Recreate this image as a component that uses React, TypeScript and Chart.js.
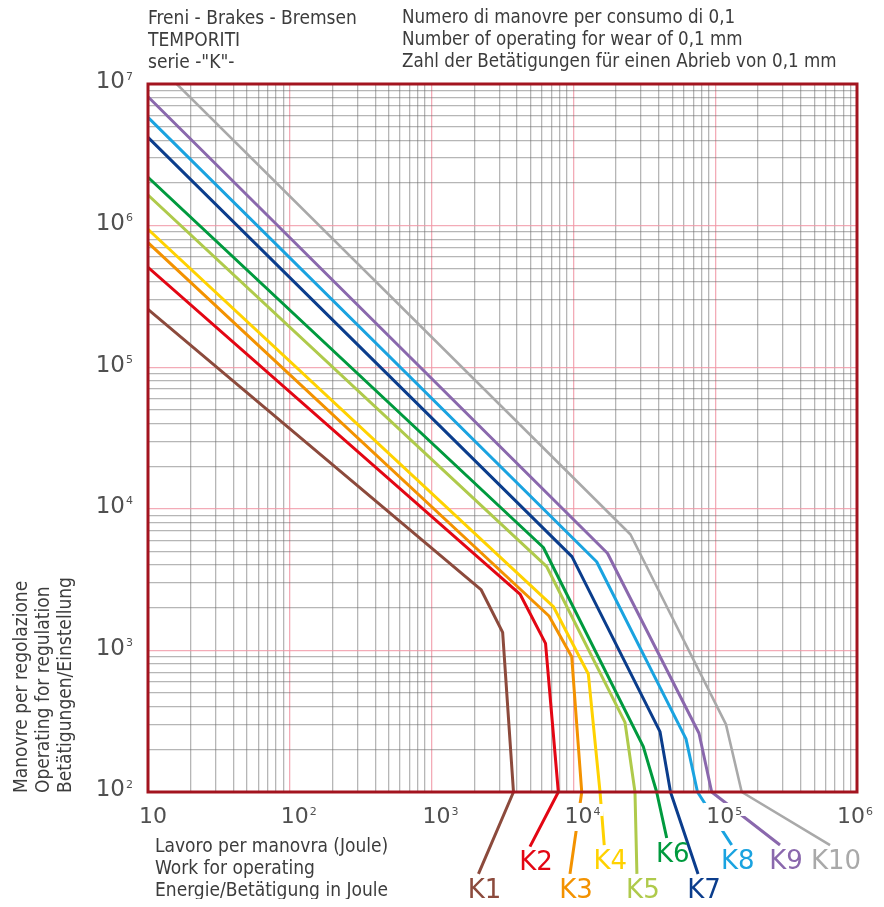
import React, { useEffect, useRef } from 'react';
import { Chart, registerables } from 'chart.js';

Chart.register(...registerables);

// Series names and colours
const seriesLabels = ['K1', 'K2', 'K3', 'K4', 'K5', 'K6', 'K7', 'K8', 'K9', 'K10'];
const seriesColors = ['#8c4a3c', '#e30613', '#f39200', '#ffd200', '#afca4b', '#009a3e', '#0b3d8c', '#1aa3e0', '#8a68ad', '#a9a9a9'];

// Work per operation (Joule) -> number of operations; last point = leader line to the label
const k1Work = [10, 2230, 3170, 3780, 2140];
const k1Ops = [256000, 2690, 1340, 100, 26.4];
const k2Work = [10, 4200, 6360, 7830, 4940];
const k2Ops = [507000, 2500, 1120, 100, 41.1];
const k3Work = [10, 6730, 9730, 11450, 9460];
const k3Ops = [757000, 1750, 902, 100, 26.4];
const k4Work = [10, 7220, 12740, 15410, 16500];
const k4Ops = [942000, 2040, 681, 100, 42.2];
const k5Work = [10, 6490, 23120, 27180, 28050];
const k5Ops = [1644000, 3900, 310, 100, 26.4];
const k6Work = [10, 6140, 31120, 38650, 45500];
const k6Ops = [2193000, 5330, 209, 100, 47.3];
const k7Work = [10, 9770, 40790, 48400, 75700];
const k7Ops = [4205000, 4590, 267, 100, 26.4];
const k8Work = [10, 14590, 62230, 75000, 130700];
const k8Ops = [5821000, 4230, 237, 100, 42.2];
const k9Work = [10, 17390, 76860, 94450, 286400];
const k9Ops = [8128000, 4850, 260, 100, 42.2];
const k10Work = [10, 25280, 119100, 153800, 645600];
const k10Ops = [15900000, 6580, 300, 100, 42.2];

const seriesWork = [k1Work, k2Work, k3Work, k4Work, k5Work, k6Work, k7Work, k8Work, k9Work, k10Work];
const seriesOps = [k1Ops, k2Ops, k3Ops, k4Ops, k5Ops, k6Ops, k7Ops, k8Ops, k9Ops, k10Ops];

// Axis ranges and labelled ticks (decades)
const xMin = 10;
const xMax = 1e6;
const yMin = 100;
const yMax = 1e7;
const xTickLabels = [10, 100, 1000, 10000, 100000, 1000000];
const yTickLabels = [100, 1000, 10000, 100000, 1000000, 10000000];

// Texts
const headerLeft = ['Freni - Brakes - Bremsen', 'TEMPORITI', 'serie -"K"-'];
const headerRight = [
  'Numero di manovre per consumo di 0,1',
  'Number of operating for wear of 0,1 mm',
  'Zahl der Betätigungen für einen Abrieb von 0,1 mm',
];
const yTitle = ['Manovre per regolazione', 'Operating for regulation', 'Betätigungen/Einstellung'];
const xTitle = ['Lavoro per manovra (Joule)', 'Work for operating', 'Energie/Betätigung in Joule'];

function isDecade(v: number) {
  const l = Math.log10(v);
  return Math.abs(l - Math.round(l)) < 1e-9;
}
function logGrid(min: number, max: number) {
  const out: number[] = [];
  const e0 = Math.round(Math.log10(min));
  const e1 = Math.round(Math.log10(max));
  for (let e = e0; e < e1; e++) {
    for (let m = 1; m <= 9; m++) out.push(m * Math.pow(10, e));
  }
  out.push(Math.pow(10, e1));
  return out;
}

const W = 876;
const H = 891;
const AREA = { left: 140, top: 76, right: 849, bottom: 784 };

const condensed = "'Liberation Sans Narrow', 'DejaVu Sans Condensed', 'Arial Narrow', sans-serif";
const tickFont = 'DejaVu Sans';
const tickColor = '#505050';

// measure "10" + exponent
function powParts(ctx: any, v: number, big: number, small: number) {
  const e = Math.round(Math.log10(v));
  ctx.font = `${big}px "${tickFont}"`;
  const wb = ctx.measureText('10').width;
  const sup = e === 1 ? '' : String(e);
  ctx.font = `${small}px "${tickFont}"`;
  const ws = sup ? ctx.measureText(sup).width + 1 : 0;
  return { wb, ws, sup };
}
function drawPow(ctx: any, left: number, baseline: number, big: number, small: number, parts: any) {
  const capBig = big * 0.729;
  const capSmall = small * 0.729;
  ctx.fillStyle = tickColor;
  ctx.textAlign = 'left';
  ctx.textBaseline = 'alphabetic';
  ctx.font = `${big}px "${tickFont}"`;
  ctx.fillText('10', left, baseline);
  if (parts.sup) {
    ctx.font = `${small}px "${tickFont}"`;
    ctx.fillText(parts.sup, left + parts.wb + 1, baseline - capBig + capSmall);
  }
}

const labelsPlugin = {
  id: 'frameAndLabels',
  afterDraw(chart: any) {
    const { ctx, chartArea: a } = chart;
    const xs = chart.scales.x;
    const ys = chart.scales.y;
    ctx.save();

    // x tick labels with a white backdrop that interrupts leader lines
    const xBig = 22;
    const xSmall = 11;
    const xBase = a.bottom + 31;
    xTickLabels.forEach((v) => {
      const px = xs.getPixelForValue(v);
      const parts = powParts(ctx, v, xBig, xSmall);
      const left = Math.min(px - 9, chart.width - parts.wb - parts.ws - 11);
      const capBig = xBig * 0.729;
      ctx.fillStyle = '#ffffff';
      ctx.fillRect(left - 3, xBase - capBig - 4, parts.wb + 4, capBig + 12);
      if (parts.sup) ctx.fillRect(left + parts.wb - 1, xBase - capBig - 3, parts.ws + 4, 12);
      drawPow(ctx, left, xBase, xBig, xSmall, parts);
    });

    // y tick labels
    const yBig = 23;
    const ySmall = 11;
    yTickLabels.forEach((v) => {
      const py = ys.getPixelForValue(v);
      const parts = powParts(ctx, v, yBig, ySmall);
      const right = a.left - 15;
      const left = right - parts.wb - parts.ws;
      const base = py - 4 + (yBig * 0.729) / 2;
      drawPow(ctx, left, base, yBig, ySmall, parts);
    });

    // plot frame
    ctx.strokeStyle = '#a3141f';
    ctx.lineWidth = 3;
    ctx.strokeRect(a.left, a.top, a.right - a.left, a.bottom - a.top);

    // series labels at the end of each leader line
    ctx.font = `26px "${tickFont}"`;
    ctx.textAlign = 'center';
    ctx.textBaseline = 'top';
    chart.data.datasets.forEach((ds: any, i: number) => {
      const meta = chart.getDatasetMeta(i);
      const p = meta.data[meta.data.length - 1];
      if (!p) return;
      ctx.fillStyle = ds.borderColor;
      ctx.fillText(ds.label, p.x + 6, p.y + 4);
    });
    ctx.restore();
  },
};

export default function App() {
  const ref = useRef<HTMLCanvasElement | null>(null);

  useEffect(() => {
    if (!ref.current) return;
    const datasets = seriesLabels.map((label, i) => ({
      label,
      data: seriesWork[i].map((x, j) => ({ x, y: seriesOps[i][j] })),
      borderColor: seriesColors[i],
      backgroundColor: seriesColors[i],
      borderWidth: i === 9 ? 2.6 : 3,
      pointRadius: 0,
      tension: 0,
      borderJoinStyle: 'round' as const,
      clip: { left: 0, top: 0, right: 0, bottom: false },
    }));

    const gridColor = (ctx: any) =>
      ctx.tick && isDecade(ctx.tick.value) ? 'rgba(240,150,165,0.8)' : 'rgba(110,110,110,0.5)';

    const chart = new Chart(ref.current, {
      type: 'line',
      data: { datasets: datasets as any },
      options: {
        animation: false,
        responsive: false,
        devicePixelRatio: 1,
        events: [],
        layout: { padding: { left: 0, top: AREA.top, right: W - AREA.right, bottom: 0 } },
        plugins: { legend: { display: false }, tooltip: { enabled: false } },
        scales: {
          x: {
            type: 'logarithmic',
            min: xMin,
            max: xMax,
            afterBuildTicks: (s: any) => {
              s.ticks = logGrid(xMin, xMax).map((value) => ({ value, major: isDecade(value) }));
            },
            afterFit: (s: any) => {
              s.height = H - AREA.bottom;
              s.paddingLeft = 0;
              s.paddingRight = 0;
            },
            grid: { color: gridColor, lineWidth: 1.3, drawTicks: false },
            border: { display: false },
            ticks: { display: false, autoSkip: false },
          },
          y: {
            type: 'logarithmic',
            min: yMin,
            max: yMax,
            afterBuildTicks: (s: any) => {
              s.ticks = logGrid(yMin, yMax).map((value) => ({ value, major: isDecade(value) }));
            },
            afterFit: (s: any) => {
              s.width = AREA.left;
              s.paddingTop = 0;
              s.paddingBottom = 0;
            },
            grid: { color: gridColor, lineWidth: 1.3, drawTicks: false },
            border: { display: false },
            ticks: { display: false, autoSkip: false },
          },
        },
      } as any,
      plugins: [labelsPlugin],
    });
    return () => chart.destroy();
  }, []);

  const textStyle: React.CSSProperties = {
    position: 'absolute',
    fontFamily: condensed,
    fontSize: 19,
    lineHeight: '22px',
    color: '#3c3c3c',
    whiteSpace: 'nowrap',
  };

  return (
    <div style={{ position: 'relative', width: W, height: H }}>
      <canvas ref={ref} width={W} height={H} style={{ display: 'block' }} />
      <div style={{ ...textStyle, left: 140, top: -2 }}>
        {headerLeft.map((t) => (
          <div key={t}>{t}</div>
        ))}
      </div>
      <div style={{ ...textStyle, left: 394, top: -2, fontSize: 18.6 }}>
        {headerRight.map((t) => (
          <div key={t}>{t}</div>
        ))}
      </div>
      <div
        style={{
          ...textStyle,
          left: 1,
          top: 785,
          transform: 'rotate(-90deg)',
          transformOrigin: 'top left',
        }}
      >
        {yTitle.map((t) => (
          <div key={t}>{t}</div>
        ))}
      </div>
      <div style={{ ...textStyle, left: 147, top: 826 }}>
        {xTitle.map((t) => (
          <div key={t}>{t}</div>
        ))}
      </div>
    </div>
  );
}
